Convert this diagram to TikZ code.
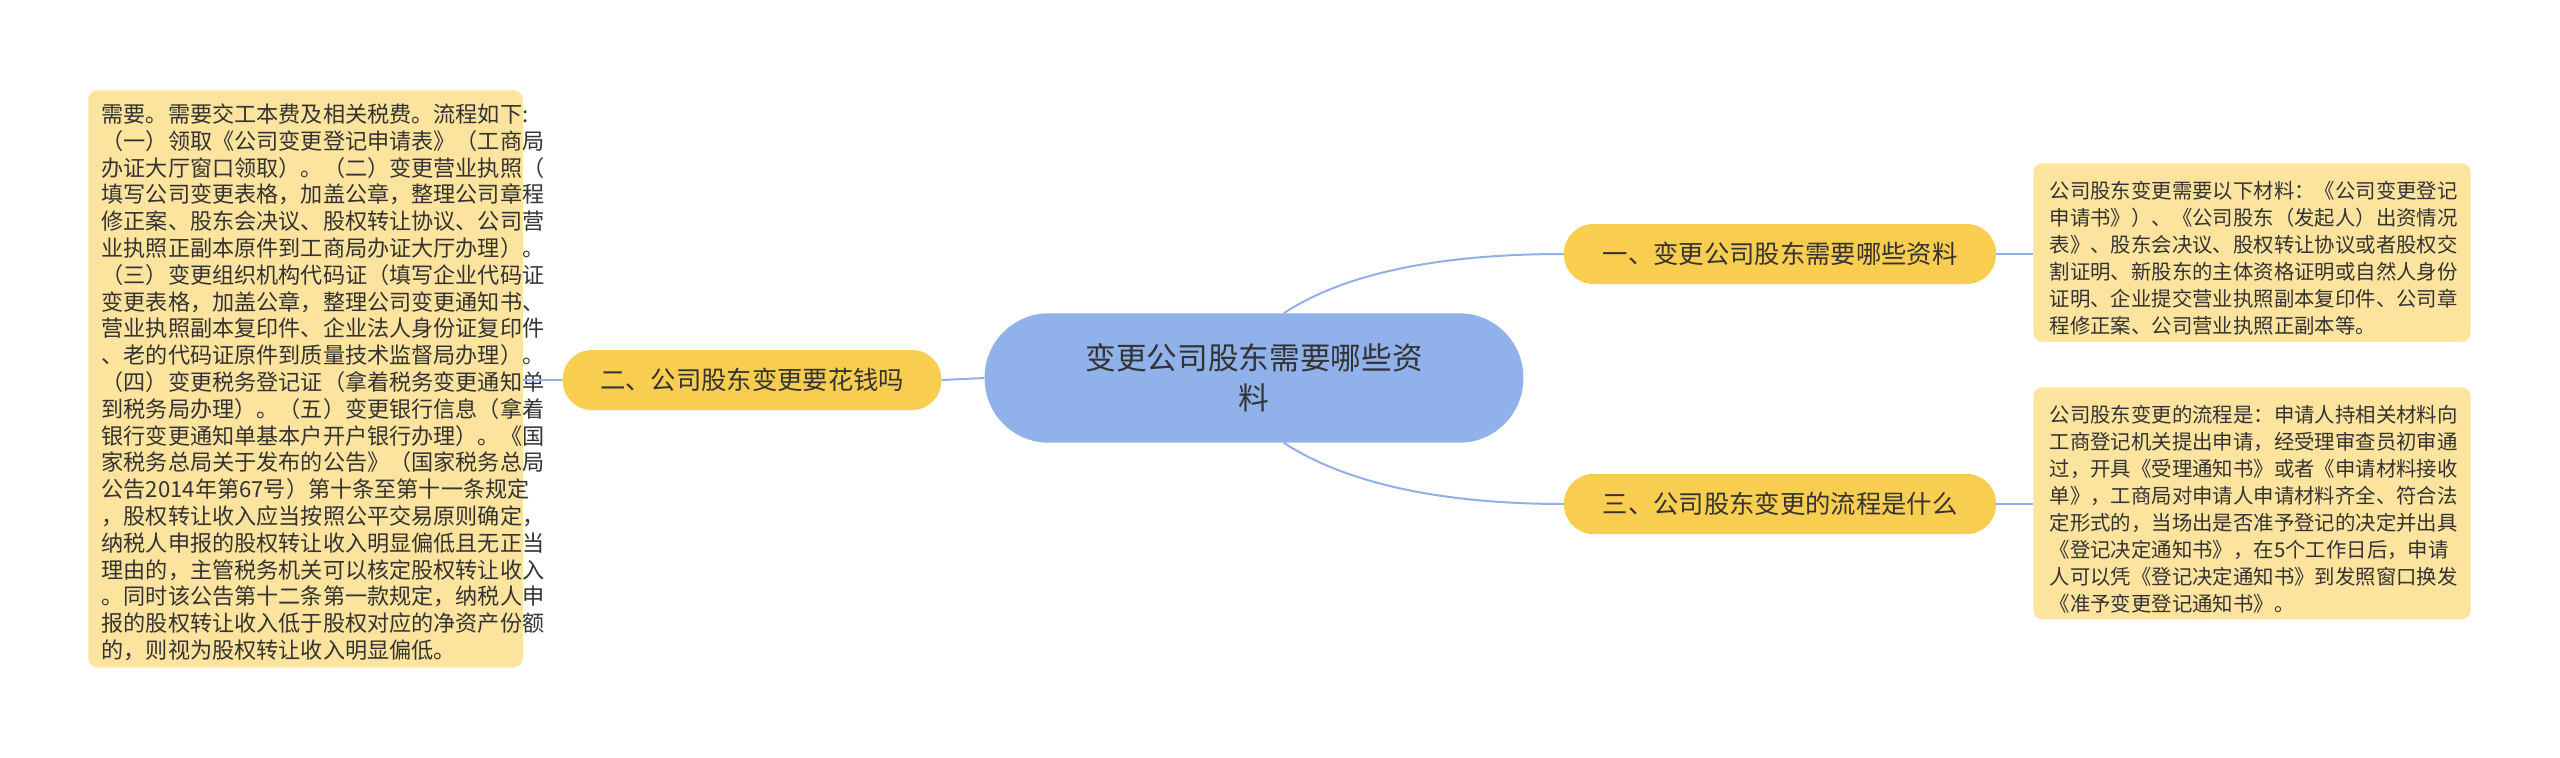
\documentclass[tikz,border=0pt]{standalone}
\usepackage{fontspec}
\setmainfont{Noto Sans CJK SC}
\begin{document}
\begin{tikzpicture}[x=0.75pt,y=-0.75pt,
  txt/.style={text=black!80},
  note/.style={txt,fill=noteY,rounded corners=7pt,inner sep=0pt,anchor=north west,align=left},
  branch/.style={txt,fill=branchY,rounded corners=22pt,minimum height=45pt,inner sep=0pt,font=\fontsize{19pt}{22pt}\selectfont},
  link/.style={draw=lineB,line width=1.5pt}]
\definecolor{noteY}{HTML}{FDE49E}
\definecolor{branchY}{HTML}{F9CD50}
\definecolor{lineB}{HTML}{8FB0E8}
\definecolor{mainB}{HTML}{90B1EA}
\useasboundingbox (0,0) rectangle (2560,757);
\fill[white] (0,0) rectangle (2560,757);
% nodes
\node[txt,fill=mainB,rounded corners=48pt,minimum width=404pt,minimum height=97pt,align=center,font=\fontsize{23pt}{30pt}\selectfont] (c) at (1254,378) {变更公司股东需要哪些资\\料};
\node[branch,minimum width=284pt] (l) at (752,380) {二、公司股东变更要花钱吗};
\node[branch,minimum width=324pt] (r1) at (1780,254) {一、变更公司股东需要哪些资料};
\node[branch,minimum width=324pt] (r3) at (1780,504) {三、公司股东变更的流程是什么};
\node[note,minimum width=326pt,minimum height=433pt] (lb) at (88,90) {};
\node[txt,anchor=north west,align=left,font=\fontsize{16.6pt}{20.1pt}\selectfont] at (97,99) {需要。需要交工本费及相关税费。流程如下:\\
（一）领取《公司变更登记申请表》（工商局\\
办证大厅窗口领取）。（二）变更营业执照（\\
填写公司变更表格，加盖公章，整理公司章程\\
修正案、股东会决议、股权转让协议、公司营\\
业执照正副本原件到工商局办证大厅办理）。\\
（三）变更组织机构代码证（填写企业代码证\\
变更表格，加盖公章，整理公司变更通知书、\\
营业执照副本复印件、企业法人身份证复印件\\
、老的代码证原件到质量技术监督局办理）。\\
（四）变更税务登记证（拿着税务变更通知单\\
到税务局办理）。（五）变更银行信息（拿着\\
银行变更通知单基本户开户银行办理）。《国\\
家税务总局关于发布的公告》（国家税务总局\\
公告2014年第67号）第十条至第十一条规定\\
，股权转让收入应当按照公平交易原则确定，\\
纳税人申报的股权转让收入明显偏低且无正当\\
理由的，主管税务机关可以核定股权转让收入\\
。同时该公告第十二条第一款规定，纳税人申\\
报的股权转让收入低于股权对应的净资产份额\\
的，则视为股权转让收入明显偏低。};
\node[note,minimum width=328pt,minimum height=134pt] (rb1) at (2033,163) {};
\node[txt,anchor=north west,align=left,font=\fontsize{15.3pt}{20.3pt}\selectfont] at (2045,176) {公司股东变更需要以下材料：《公司变更登记\\
申请书》）、《公司股东（发起人）出资情况\\
表》、股东会决议、股权转让协议或者股权交\\
割证明、新股东的主体资格证明或自然人身份\\
证明、企业提交营业执照副本复印件、公司章\\
程修正案、公司营业执照正副本等。};
\node[note,minimum width=328pt,minimum height=174pt] (rb3) at (2033,387) {};
\node[txt,anchor=north west,align=left,font=\fontsize{15.3pt}{20.3pt}\selectfont] at (2045,400) {公司股东变更的流程是：申请人持相关材料向\\
工商登记机关提出申请，经受理审查员初审通\\
过，开具《受理通知书》或者《申请材料接收\\
单》，工商局对申请人申请材料齐全、符合法\\
定形式的，当场出是否准予登记的决定并出具\\
《登记决定通知书》，在5个工作日后，申请\\
人可以凭《登记决定通知书》到发照窗口换发\\
《准予变更登记通知书》。};
% connectors
\draw[link] (c.west) -- (l.east);
\draw[link] (l.west) -- (lb.east |- l.west);
\draw[link] (c.north) ++(30,0) coordinate (ct) (ct) .. controls (1350,270) and (1450,254) .. (r1.west);
\draw[link] (c.south) ++(30,0) coordinate (cb) (cb) .. controls (1350,486) and (1450,504) .. (r3.west);
\draw[link] (r1.east) -- (rb1.west |- r1.east);
\draw[link] (r3.east) -- (rb3.west |- r3.east);
\end{tikzpicture}
\end{document}
